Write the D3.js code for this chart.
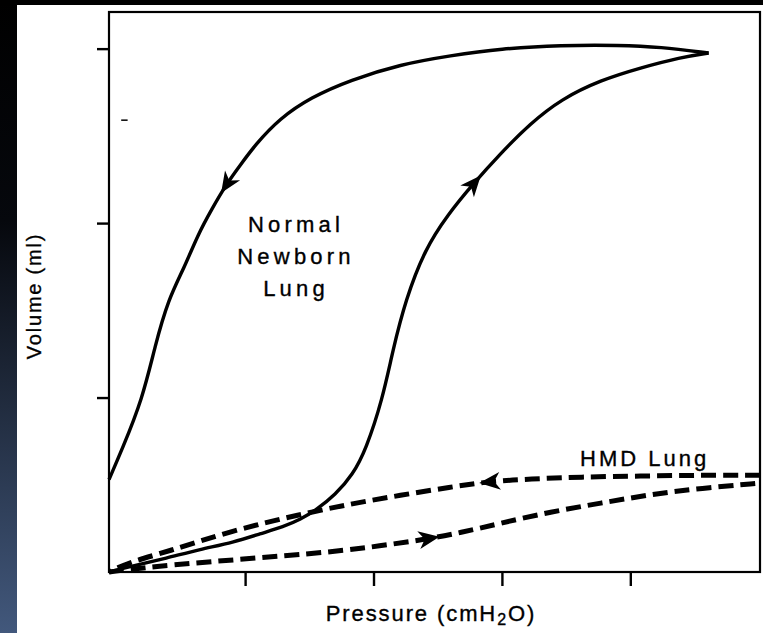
<!DOCTYPE html>
<html>
<head>
<meta charset="utf-8">
<script src="https://cdn.jsdelivr.net/npm/d3@7"></script>
<style>
  html, body { margin: 0; padding: 0; background: #fff; }
  svg { display: block; }
  text { font-family: "Liberation Sans", Arial, Helvetica, sans-serif; fill: #000; stroke: #000; stroke-width: 0.35; }
</style>
</head>
<body>
<svg id="chart" width="763" height="633"></svg>
<script>
// ---- data (pressure in cmH2O-like units, volume in ml-like units) ----
const pressureTicks = [10, 20, 30, 40];
const volumeTicks = [10, 20, 30];

// Normal newborn lung: inflation limb (origin -> peak)
const normalInflation = [
  [-0.6, 0], [1.0, 0.3], [3.9, 0.8], [6.5, 1.3], [9.1, 1.7], [11.2, 2.2],
  [13.0, 2.6], [14.3, 3.0], [15.6, 3.6], [17.0, 4.4], [18.4, 5.6], [19.4, 7.0],
  [20.7, 9.9], [21.5, 12.7], [22.5, 15.6], [24.0, 18.5], [25.8, 20.5], [27.7, 22.2],
  [29.9, 24.0], [32.2, 25.7], [34.6, 27.1], [37.7, 28.2], [40.8, 28.9], [43.9, 29.5], [46.1, 29.75]
];
// Normal newborn lung: deflation limb (peak -> left edge)
const normalDeflation = [
  [46.1, 29.75], [42.3, 30.1], [39.2, 30.2], [34.6, 30.2], [29.9, 30.0], [26.0, 29.6],
  [22.1, 29.1], [18.2, 28.2], [15.1, 27.2], [12.7, 26.0], [10.8, 24.5], [9.6, 23.3],
  [8.6, 22.3], [7.4, 20.8], [6.3, 19.3], [5.3, 17.5], [4.0, 15.6], [3.0, 13.0],
  [2.0, 9.9], [0.4, 7.0], [-0.6, 5.3]
];
// HMD lung: inflation limb (lower dashed)
const hmdInflation = [
  [-0.6, 0], [2.6, 0.3], [9.1, 0.7], [16.9, 1.15], [20.5, 1.5], [23.9, 1.85],
  [26.8, 2.25], [29.9, 2.8], [33.8, 3.45], [37.7, 3.95], [41.6, 4.45], [45.5, 4.8], [50.1, 5.1]
];
// HMD lung: deflation limb (upper dashed)
const hmdDeflation = [
  [50.1, 5.55], [45.5, 5.55], [40.8, 5.5], [36.1, 5.45], [32.2, 5.33], [29.1, 5.2],
  [26.0, 4.87], [22.1, 4.4], [18.2, 3.9], [14.3, 3.3], [9.1, 2.4], [3.9, 1.15], [1.0, 0.57], [-0.6, 0]
];
// arrowheads: pressure at which each arrow sits
const arrowPressures = { normalInflation: 27.8, normalDeflation: 8.6, hmdInflation: 24.3, hmdDeflation: 29.1 };
const normalLabel = ["Normal", "Newborn", "Lung"];
const hmdLabel = "HMD Lung";
const xTitle = ["Pressure (cmH", "2", "O)"];
const yTitle = "Volume (ml)";
const strayMark = { p0: 0.35, p1: 0.85, v: 25.9 };

// ---- layout ----
const svg = d3.select("#chart");
const W = 763, H = 633;
const x = d3.scaleLinear().domain([-0.6, 50.1]).range([109, 760]);
const y = d3.scaleLinear().domain([0, 32.1]).range([572, 12]);

// background decorations (scan edges)
const defs = svg.append("defs");
const grad = defs.append("linearGradient").attr("id", "strip").attr("x1", 0).attr("y1", 0).attr("x2", 0).attr("y2", 1);
grad.append("stop").attr("offset", "0%").attr("stop-color", "#000000");
grad.append("stop").attr("offset", "35%").attr("stop-color", "#06080d");
grad.append("stop").attr("offset", "100%").attr("stop-color", "#42587c");
svg.append("rect").attr("x", 0).attr("y", 0).attr("width", 17).attr("height", H).attr("fill", "url(#strip)");
svg.append("rect").attr("x", 0).attr("y", 0).attr("width", W).attr("height", 5).attr("fill", "#000");

// frame
svg.append("rect")
  .attr("x", x.range()[0]).attr("y", y.range()[1])
  .attr("width", x.range()[1] - x.range()[0]).attr("height", y.range()[0] - y.range()[1])
  .attr("fill", "none").attr("stroke", "#000").attr("stroke-width", 2.2);

// axes (ticks only)
const xAxis = svg.append("g").attr("transform", `translate(0,${y.range()[0]})`)
  .call(d3.axisBottom(x).tickValues(pressureTicks).tickSize(14).tickFormat(""));
const yAxis = svg.append("g").attr("transform", `translate(${x.range()[0]},0)`)
  .call(d3.axisLeft(y).tickValues(volumeTicks).tickSize(12).tickFormat(""));
[xAxis, yAxis].forEach(g => {
  g.select(".domain").remove();
  g.selectAll(".tick line").attr("stroke", "#000").attr("stroke-width", 2.4);
});

// small stray mark inside the frame (as in the scan)
svg.append("line")
  .attr("x1", x(strayMark.p0)).attr("x2", x(strayMark.p1))
  .attr("y1", y(strayMark.v)).attr("y2", y(strayMark.v))
  .attr("stroke", "#000").attr("stroke-width", 1.5);

// curves
const line = d3.line().x(d => x(d[0])).y(d => y(d[1])).curve(d3.curveBasis);
function drawCurve(data, dashed) {
  return svg.append("path").datum(data).attr("d", line)
    .attr("fill", "none").attr("stroke", "#000")
    .attr("stroke-width", dashed ? 5 : 3.4)
    .attr("stroke-dasharray", dashed ? "15 7" : null)
    .attr("stroke-linecap", "butt").attr("stroke-linejoin", "round");
}
const paths = {
  normalInflation: drawCurve(normalInflation, false),
  normalDeflation: drawCurve(normalDeflation, false),
  hmdInflation: drawCurve(hmdInflation, true),
  hmdDeflation: drawCurve(hmdDeflation, true)
};

// arrowheads placed on each path
Object.keys(paths).forEach(k => {
  const node = paths[k].node();
  const total = node.getTotalLength();
  const tx = x(arrowPressures[k]);
  let best = 0, bestD = Infinity;
  for (let l = 0; l <= total; l += 0.5) {
    const p = node.getPointAtLength(l);
    const dd = Math.abs(p.x - tx);
    if (dd < bestD) { bestD = dd; best = l; }
  }
  const p0 = node.getPointAtLength(Math.max(0, best - 3));
  const p1 = node.getPointAtLength(Math.min(total, best + 3));
  const c = node.getPointAtLength(best);
  const ang = Math.atan2(p1.y - p0.y, p1.x - p0.x) * 180 / Math.PI;
  svg.append("path")
    .attr("d", "M11,0 L-10,-9 L-4,0 L-10,9 Z")
    .attr("fill", "#000")
    .attr("transform", `translate(${c.x},${c.y}) rotate(${ang})`);
});

// labels
const lab = svg.append("text").attr("font-size", 22).attr("letter-spacing", 4.2).attr("text-anchor", "middle");
normalLabel.forEach((t, i) => {
  lab.append("tspan").attr("x", 296).attr("y", 232 + i * 32).text(t);
});
svg.append("text").attr("x", 580).attr("y", 466).attr("font-size", 22).attr("letter-spacing", 3)
  .text(hmdLabel);

// axis titles
const xt = svg.append("text").attr("x", 431).attr("y", 621).attr("font-size", 22)
  .attr("letter-spacing", 1.9).attr("text-anchor", "middle");
xt.append("tspan").text(xTitle[0]);
xt.append("tspan").attr("font-size", 16).attr("dy", 4).text(xTitle[1]);
xt.append("tspan").attr("dy", -4).text(xTitle[2]);

svg.append("text").attr("transform", "translate(41,296) rotate(-90)")
  .attr("font-size", 20).attr("letter-spacing", 1.8).attr("text-anchor", "middle")
  .text(yTitle);
</script>
</body>
</html>
